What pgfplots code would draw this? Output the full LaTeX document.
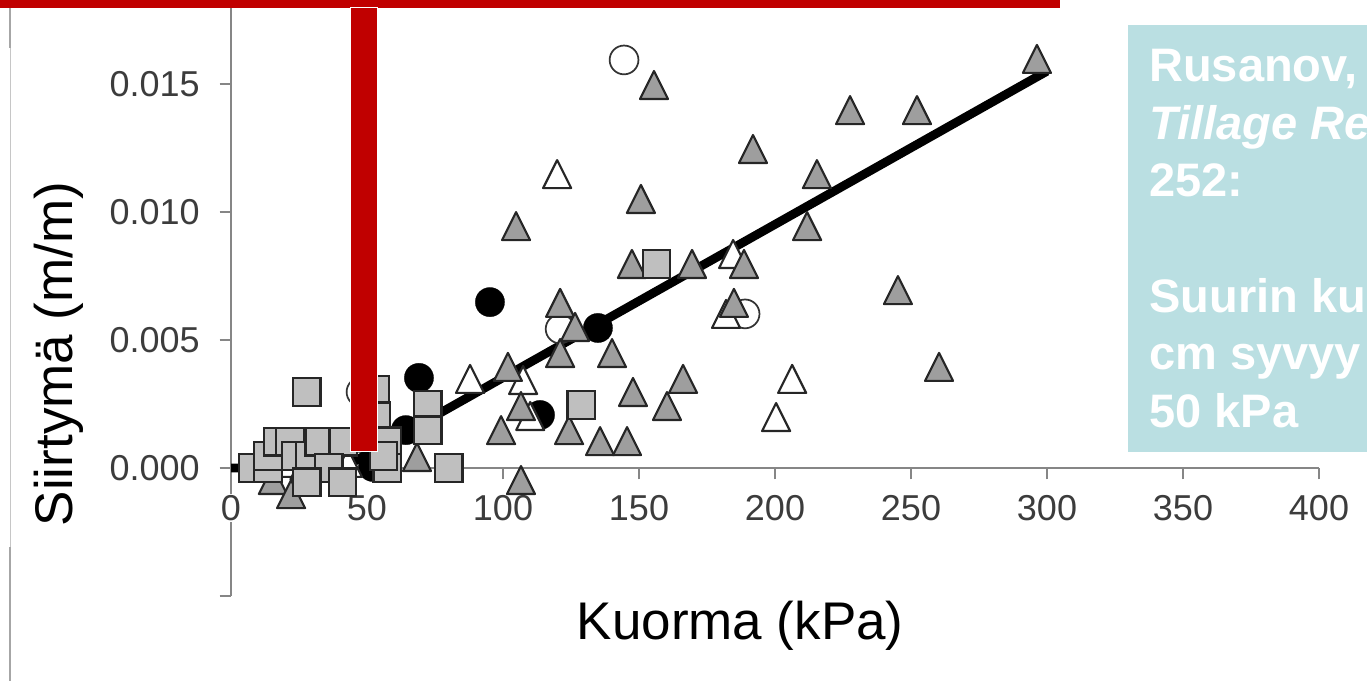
\documentclass[border=0pt]{standalone}
\usepackage{pgfplots}
\pgfplotsset{compat=1.18}
\usepackage{fontspec}
\setmainfont{Liberation Sans}
\definecolor{axgray}{RGB}{134,134,134}
\definecolor{trigray}{RGB}{158,158,158}
\definecolor{sqgray}{RGB}{191,191,191}
\definecolor{barred}{RGB}{192,0,0}
\definecolor{boxteal}{RGB}{186,223,226}
\definecolor{ticktext}{RGB}{60,60,60}
\pgfdeclareplotmark{tri}{%
  \pgfpathmoveto{\pgfqpoint{0pt}{\pgfplotmarksize}}%
  \pgfpathlineto{\pgfqpoint{-\pgfplotmarksize}{-\pgfplotmarksize}}%
  \pgfpathlineto{\pgfqpoint{\pgfplotmarksize}{-\pgfplotmarksize}}%
  \pgfpathclose
  \pgfusepathqfillstroke}
\begin{document}
\begin{tikzpicture}
\begin{scope}[x=0.75pt,y=-0.75pt]
\draw[gray!70, line width=1.5pt] (10,8) -- (10,48);
\draw[gray!45, line width=0.6pt] (10,48) -- (10,547);
\draw[gray!70, line width=1.5pt] (10,547) -- (10,681);
\end{scope}
\begin{axis}[
  at={(173.25pt,-447pt)}, anchor=south west,
  scale only axis, width=816pt, height=441.6pt,
  xmin=0, xmax=400, ymin=-0.005, ymax=0.018,
  axis x line=middle, axis y line=left,
  axis line style={axgray, line width=1.1pt, -},
  tick align=outside, xtick align=outside, ytick align=outside,
  major tick length=8.5pt,
  major tick style={axgray, line width=1.1pt},
  scaled y ticks=false, scaled x ticks=false,
  xtick={0,50,100,150,200,250,300,350,400},
  xticklabels={0,50,100,150,200,250,300,350,400},
  ytick={-0.005,0,0.005,0.01,0.015},
  yticklabels={,0.000,0.005,0.010,0.015},
  hide obscured x ticks=false, hide obscured y ticks=false,
  tick label style={font=\fontsize{27}{30}\selectfont, text=ticktext},
  xticklabel style={fill=white, inner sep=1pt, yshift=-10.5pt},
  yticklabel style={xshift=-11.5pt},
  clip=false,
  xlabel={Kuorma (kPa)}, ylabel={Siirtymä (m/m)},
  xlabel style={at={(axis description cs:0.468,-0.0747)}, anchor=base, font=\fontsize{39.75}{44}\selectfont},
  ylabel style={at={(axis description cs:-0.1461,0.411)}, anchor=base, rotate=0, font=\fontsize{39.75}{44}\selectfont},
]
% black filled circles
\addplot[only marks, mark=*, mark size=11pt, mark options={fill=black, draw=black, line width=0.2pt}] table {
x y
28.3 0.00047
48.2 0.00117
52.2 0.00004
64.3 0.00148
69.1 0.00352
95.2 0.00648
113.6 0.00207
134.9 0.00547
};
% open circles
\addplot[only marks, mark=*, mark size=10.8pt, mark options={fill=white, draw=black!80, line width=1.3pt}] table {
x y
144.5 0.01594
121.0 0.00543
189.0 0.00602
47.8 0.00297
};
% open triangles
\addplot[only marks, mark=tri, mark size=10.5pt, mark options={fill=white, draw=black!85, line width=1.6pt, line join=round}] table {
x y
119.9 0.01148
184.6 0.00836
182.0 0.00602
87.9 0.00348
107.4 0.00344
110.0 0.00203
206.3 0.00348
200.4 0.00199
19.0 0.0002
34.6 0.0002
43.0 0.0002
};
% grey triangles
\addplot[only marks, mark=tri, mark size=10.5pt, mark options={fill=trigray, draw=black!85, line width=1.6pt, line join=round}] table {
x y
296.3 0.01598
155.5 0.01496
227.6 0.01398
252.2 0.01398
191.9 0.01246
215.4 0.01148
150.7 0.01051
104.8 0.00945
211.8 0.00945
147.4 0.00797
169.5 0.00797
188.6 0.00797
184.9 0.00645
245.2 0.00695
260.3 0.00395
121.0 0.00645
126.5 0.00551
121.0 0.00449
140.1 0.00449
101.8 0.00395
106.6 0.00242
99.3 0.00148
124.3 0.00148
135.7 0.00105
145.6 0.00105
147.8 0.00297
166.2 0.00348
160.3 0.00242
106.6 -0.00047
68.4 0.00043
15.4 -0.00047
22.1 -0.00102
10.0 0.0001
27.0 0.0001
};
% squares
\addplot[only marks, mark=square*, mark size=10.2pt, mark options={fill=sqgray, draw=black!85, line width=1.6pt}] table {
x y
156.4 0.00797
128.7 0.00246
80.1 0.0
72.4 0.00246
72.4 0.00148
27.9 0.00297
53.0 0.00305
53.3 0.00203
57.4 0.00105
57.4 0.0
8.0 0.0
13.6 0.0
13.6 0.00047
17.0 0.00102
21.7 0.00102
23.9 0.00047
29.0 0.00047
32.4 0.00102
41.2 0.00102
36.0 0.0
27.9 -0.00055
41.0 -0.00055
56.0 0.00047
};
% trend line
\addplot[black, line width=6.6pt, line join=round] coordinates {(0,0) (41,0) (300,0.0155)};
\end{axis}
\begin{scope}[x=0.75pt,y=-0.75pt]
\fill[barred] (0,0) rectangle (1060,8);
\filldraw[fill=barred, draw=white, line width=0.75pt] (350,8) rectangle (377,451);
\fill[boxteal] (1128,25) rectangle (1367,452);
\begin{scope}[every node/.style={anchor=base west, inner sep=0pt, text=white, font=\fontsize{35.25}{42}\selectfont\bfseries}]
\node at (1149,82) {Rusanov,};
\node at (1149,139.5) {\itshape Tillage Re};
\node at (1149,197) {252:};
\node at (1149,312) {Suurin ku};
\node at (1149,369.5) {cm syvyy};
\node at (1149,427) {50 kPa};
\end{scope}
\end{scope}
\pgfresetboundingbox
\path[use as bounding box] (0pt,0pt) rectangle (1025.25pt,-510.75pt);
\end{tikzpicture}
\end{document}
